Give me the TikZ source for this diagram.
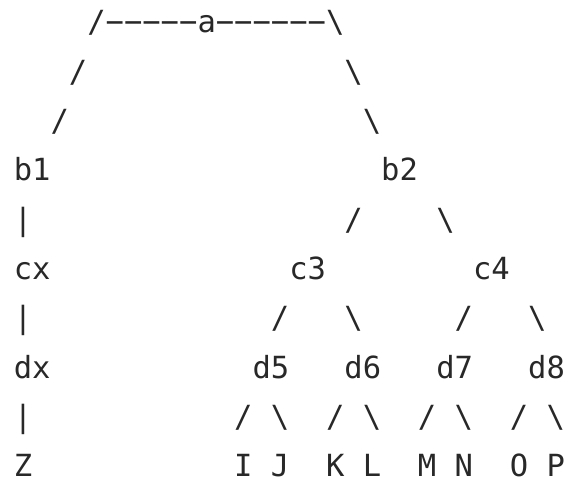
\documentclass[tikz,border=0pt]{standalone}
\usepackage{fontspec}
\setmonofont{DejaVu Sans Mono}
\definecolor{ink}{RGB}{40,40,40}
\tikzset{
  glyph/.style={font=\ttfamily\fontsize{30.5}{36}\selectfont, text=ink,
    inner sep=0pt, outer sep=0pt, anchor=base west}
}
% place text at a character cell: name, column, row, text
\newcommand\cellat[4]{\node[glyph] (#1) at ({13.8+#2*18.37},{450-#3*49.33}) {#4};}
\newcommand\bs{\textbackslash}
\newcommand\rl{\symbol{"2212}}
\begin{document}
\begin{tikzpicture}[x=1pt,y=1pt]
\useasboundingbox (0,0) rectangle (564,483);
% root
\cellat{r0l}{4}{0}{/}
\cellat{barL}{5}{0}{\rl\rl\rl\rl\rl}
\cellat{a}{10}{0}{a}
\cellat{barR}{11}{0}{\rl\rl\rl\rl\rl\rl}
\cellat{r0r}{17}{0}{\bs}
\cellat{r1l}{3}{1}{/}
\cellat{r1r}{18}{1}{\bs}
\cellat{r2l}{2}{2}{/}
\cellat{r2r}{19}{2}{\bs}
% second level
\cellat{b1}{0}{3}{b1}
\cellat{b2}{20}{3}{b2}
\cellat{v1}{0}{4}{|}
\cellat{b2l}{18}{4}{/}
\cellat{b2r}{23}{4}{\bs}
% third level
\cellat{cx}{0}{5}{cx}
\cellat{c3}{15}{5}{c3}
\cellat{c4}{25}{5}{c4}
\cellat{v2}{0}{6}{|}
\cellat{c3l}{14}{6}{/}
\cellat{c3r}{18}{6}{\bs}
\cellat{c4l}{24}{6}{/}
\cellat{c4r}{28}{6}{\bs}
% fourth level
\cellat{dx}{0}{7}{dx}
\cellat{d5}{13}{7}{d5}
\cellat{d6}{18}{7}{d6}
\cellat{d7}{23}{7}{d7}
\cellat{d8}{28}{7}{d8}
\cellat{v3}{0}{8}{|}
\cellat{d5l}{12}{8}{/}
\cellat{d5r}{14}{8}{\bs}
\cellat{d6l}{17}{8}{/}
\cellat{d6r}{19}{8}{\bs}
\cellat{d7l}{22}{8}{/}
\cellat{d7r}{24}{8}{\bs}
\cellat{d8l}{27}{8}{/}
\cellat{d8r}{29}{8}{\bs}
% leaves
\cellat{Z}{0}{9}{Z}
\cellat{I}{12}{9}{I}
\cellat{J}{14}{9}{J}
\cellat{K}{17}{9}{K}
\cellat{L}{19}{9}{L}
\cellat{M}{22}{9}{M}
\cellat{N}{24}{9}{N}
\cellat{O}{27}{9}{O}
\cellat{P}{29}{9}{P}
\end{tikzpicture}
\end{document}
